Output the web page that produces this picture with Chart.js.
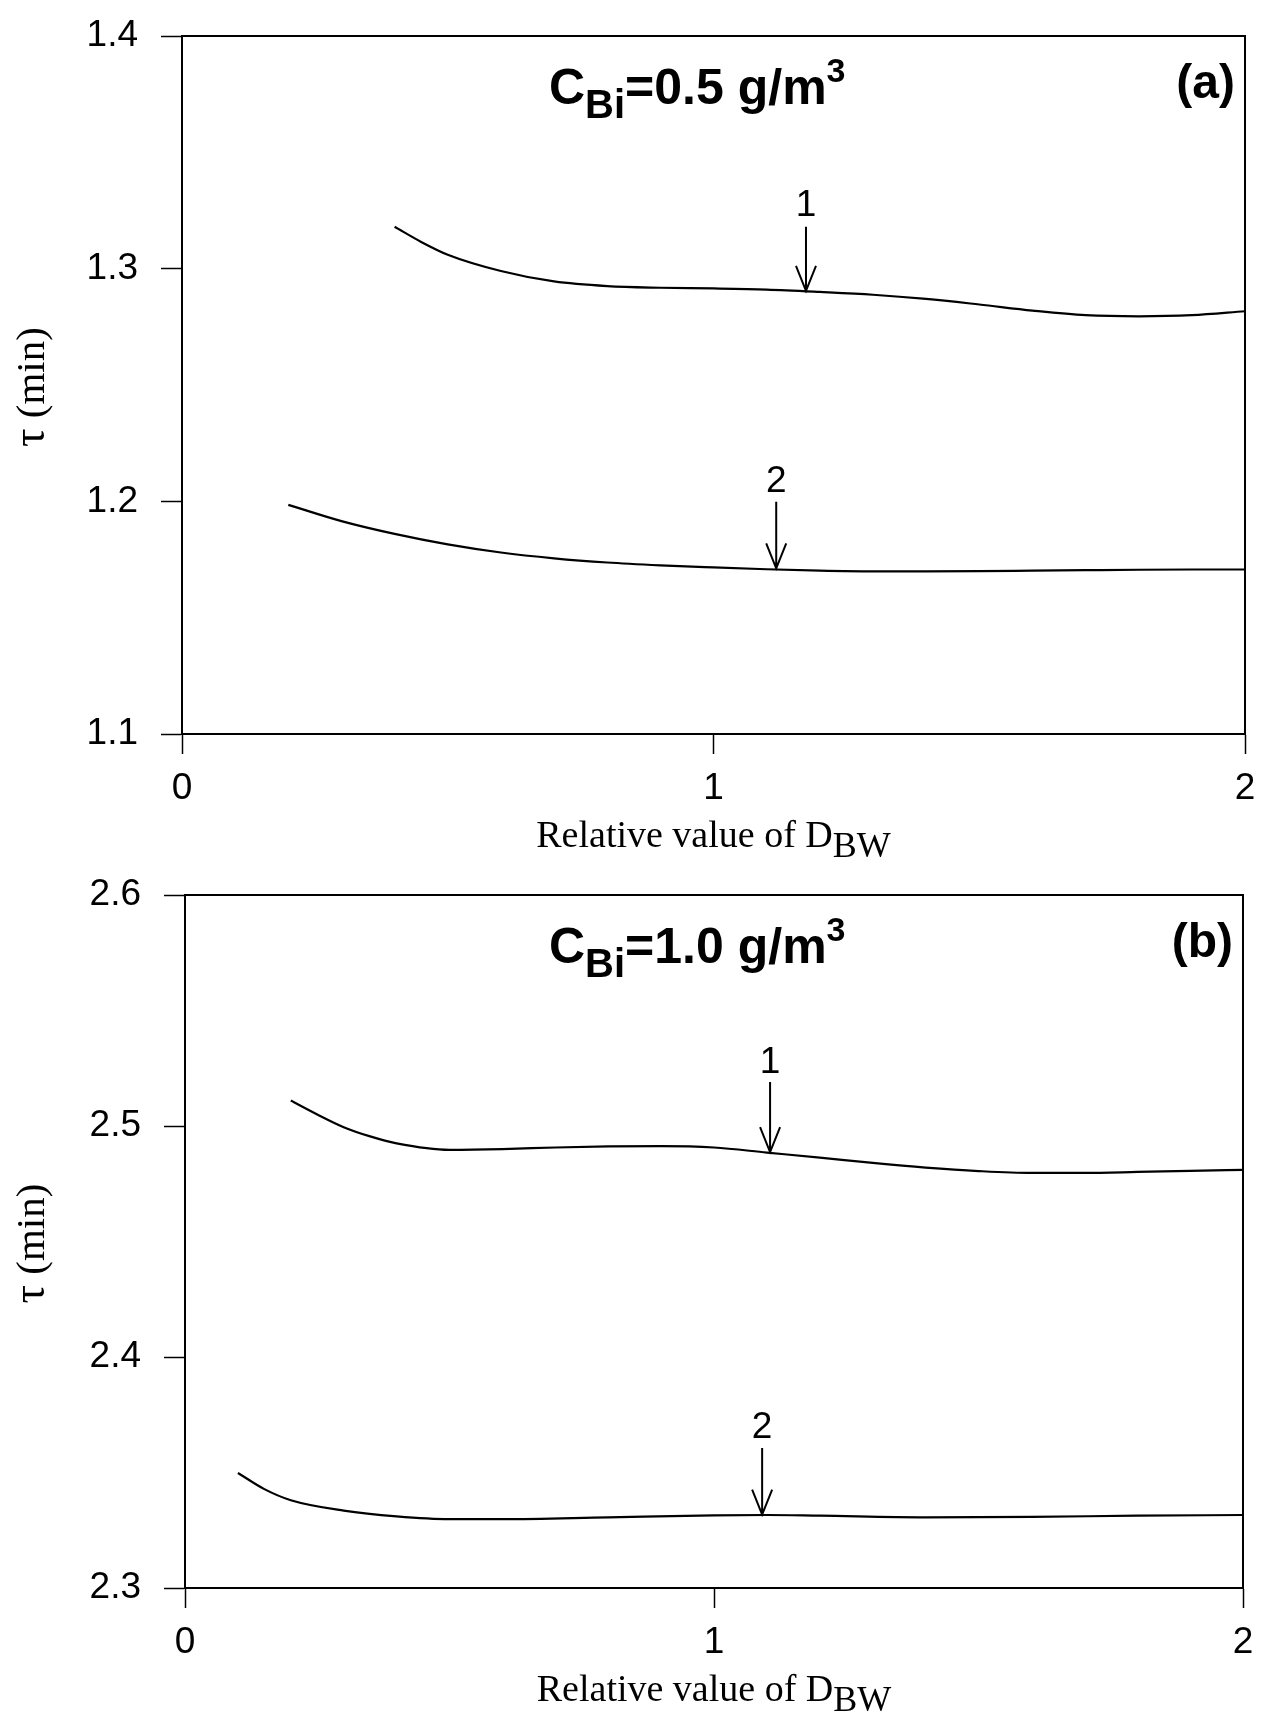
<!DOCTYPE html>
<html>
<head>
<meta charset="utf-8">
<script src="https://cdn.jsdelivr.net/npm/chart.js@4.4.0/dist/chart.umd.min.js"></script>
<style>
  html, body { margin: 0; padding: 0; background: #fff; }
  .panel { position: relative; width: 1261px; height: 857px; }
</style>
</head>
<body>
<div class="panel"><canvas id="chartA"></canvas></div>
<div class="panel"><canvas id="chartB"></canvas></div>
<script>
// Panel (a): C_Bi = 0.5 g/m3, tau vs relative D_BW
const xA1 = [0.40, 0.45, 0.50, 0.60, 0.70, 0.80, 0.90, 1.00, 1.10, 1.20, 1.30, 1.40, 1.50, 1.60, 1.70, 1.80, 1.90, 2.00];
const yA1 = [1.318, 1.3115, 1.306, 1.299, 1.2945, 1.2925, 1.2918, 1.2915, 1.291, 1.290, 1.2888, 1.2870, 1.2846, 1.2820, 1.2800, 1.2795, 1.2800, 1.2817];
const xA2 = [0.20, 0.30, 0.40, 0.50, 0.60, 0.70, 0.80, 0.90, 1.00, 1.10, 1.20, 1.30, 1.40, 1.50, 1.60, 1.70, 1.80, 1.90, 2.00];
const yA2 = [1.1985, 1.1915, 1.1860, 1.1815, 1.1780, 1.1755, 1.1737, 1.1725, 1.1716, 1.1708, 1.1702, 1.1699, 1.1699, 1.1700, 1.1702, 1.1704, 1.1706, 1.1707, 1.1707];

// Panel (b): C_Bi = 1.0 g/m3
const xB1 = [0.20, 0.25, 0.30, 0.35, 0.40, 0.50, 0.60, 0.70, 0.80, 0.90, 1.00, 1.10, 1.20, 1.30, 1.40, 1.50, 1.60, 1.70, 1.80, 1.90, 2.00];
const yB1 = [2.5110, 2.5050, 2.4995, 2.4955, 2.4925, 2.4897, 2.4900, 2.4907, 2.4912, 2.4913, 2.4907, 2.4885, 2.4863, 2.4840, 2.4820, 2.4805, 2.4797, 2.4797, 2.4801, 2.4806, 2.4810];
const xB2 = [0.10, 0.15, 0.20, 0.30, 0.40, 0.50, 0.60, 0.80, 1.00, 1.10, 1.20, 1.40, 1.60, 1.80, 2.00];
const yB2 = [2.3498, 2.3428, 2.3380, 2.3335, 2.3310, 2.3298, 2.3298, 2.3306, 2.3314, 2.3316, 2.3313, 2.3306, 2.3308, 2.3313, 2.3316];

// axis ranges and ticks
const xTicks = [0, 1, 2];
const yTicksA = [1.1, 1.2, 1.3, 1.4];
const yTicksB = [2.3, 2.4, 2.5, 2.6];

// curve labels with arrows (x, label centre, arrow tail, arrow tip) in data units
const arrowsA = [
  { text: "1", x: 1.174, label: 1.327, tail: 1.318, tip: 1.2905 },
  { text: "2", x: 1.118, label: 1.2084, tail: 1.1998, tip: 1.1712 }
];
const arrowsB = [
  { text: "1", x: 1.106, label: 2.5273, tail: 2.519, tip: 2.4887 },
  { text: "2", x: 1.091, label: 2.3693, tail: 2.3606, tip: 2.3318 }
];

const SANS = '"Liberation Sans", Arial, sans-serif';
const SERIF = '"Liberation Serif", "Times New Roman", serif';

const toPoints = (xs, ys) => xs.map((x, i) => ({ x: x, y: ys[i] }));

// draw a run of text pieces (for sub/superscripts)
const drawRuns = (ctx, runs, x, y, align) => {
  let total = 0;
  runs.forEach((r) => { ctx.font = r.font; total += ctx.measureText(r.t).width; });
  let cx = align === "center" ? x - total / 2 : align === "right" ? x - total : x;
  ctx.textAlign = "left";
  ctx.textBaseline = "alphabetic";
  runs.forEach((r) => {
    ctx.font = r.font;
    ctx.fillText(r.t, cx, y + (r.dy || 0));
    cx += ctx.measureText(r.t).width;
  });
};

const figurePlugin = {
  id: "figure",
  afterDraw(chart, args, o) {
    const { ctx, chartArea: a, scales } = chart;
    const sx = scales.x, sy = scales.y;
    ctx.save();
    ctx.fillStyle = "#000";
    ctx.strokeStyle = "#000";

    // full frame
    ctx.lineWidth = 2;
    ctx.strokeRect(a.left, a.top, a.right - a.left, a.bottom - a.top);

    // arrows + curve numbers
    ctx.lineWidth = 2;
    o.arrows.forEach((ar) => {
      const px = sx.getPixelForValue(ar.x);
      const pl = sy.getPixelForValue(ar.label);
      const pt = sy.getPixelForValue(ar.tail);
      const pp = sy.getPixelForValue(ar.tip);
      ctx.beginPath();
      ctx.moveTo(px, pt);
      ctx.lineTo(px, pp);
      ctx.moveTo(px - 10, pp - 25);
      ctx.lineTo(px, pp);
      ctx.lineTo(px + 10, pp - 25);
      ctx.stroke();
      ctx.font = '37px "Liberation Sans Narrow", ' + SANS;
      ctx.textAlign = "center";
      ctx.textBaseline = "middle";
      ctx.fillText(ar.text, px, pl);
    });

    // concentration label
    drawRuns(ctx, [
      { t: "C", font: "bold 50px " + SANS },
      { t: "Bi", font: "bold 40px " + SANS, dy: 14 },
      { t: "=" + o.conc + " g/m", font: "bold 50px " + SANS },
      { t: "3", font: "bold 34px " + SANS, dy: -22 }
    ], 549, a.top + 68, "left");

    // panel letter
    ctx.font = "bold 48px " + SANS;
    ctx.textAlign = "right";
    ctx.textBaseline = "alphabetic";
    ctx.fillText(o.letter, a.right - 10, a.top + 62);

    // x axis title
    drawRuns(ctx, [
      { t: "Relative value of D", font: "38px " + SERIF },
      { t: "BW", font: "36px " + SERIF, dy: 10 }
    ], (a.left + a.right) / 2, a.bottom + 113, "center");

    // y axis title (rotated)
    ctx.translate(44, (a.top + a.bottom) / 2 + 2);
    ctx.rotate(-Math.PI / 2);
    drawRuns(ctx, [
      { t: "\u03C4", font: "46px " + SERIF },
      { t: " (min)", font: "41px " + SERIF }
    ], 0, 0, "center");
    ctx.restore();
  }
};

const makeChart = (canvasId, s1, s2, yTicks, geo, extra) => {
  const canvas = document.getElementById(canvasId);
  const lineStyle = {
    borderColor: "#000",
    borderWidth: 2.2,
    pointRadius: 0,
    cubicInterpolationMode: "monotone",
    fill: false
  };
  return new Chart(canvas, {
    type: "line",
    data: {
      datasets: [
        Object.assign({ label: "1", data: s1 }, lineStyle),
        Object.assign({ label: "2", data: s2 }, lineStyle)
      ]
    },
    options: {
      responsive: true,
      maintainAspectRatio: false,
      animation: false,
      layout: { padding: { top: geo.top, right: geo.right, left: 0, bottom: 0 } },
      plugins: {
        legend: { display: false },
        tooltip: { enabled: false },
        figure: extra
      },
      scales: {
        x: {
          type: "linear",
          min: xTicks[0],
          max: xTicks[xTicks.length - 1],
          afterBuildTicks: (s) => { s.ticks = xTicks.map((v) => ({ value: v })); },
          // fixed box, no label overflow padding
          afterFit: (s) => { s.height = geo.xh; s.paddingLeft = 0; s.paddingRight = 0; },
          ticks: {
            color: "#000",
            font: { family: SANS, size: 37 },
            padding: 13,
            maxRotation: 0,
            callback: (v) => v.toFixed(0)
          },
          grid: { drawOnChartArea: false, drawTicks: true, tickLength: 20, tickColor: "#000", tickWidth: 1.5 },
          border: { display: true, color: "#000", width: 2 }
        },
        y: {
          type: "linear",
          min: yTicks[0],
          max: yTicks[yTicks.length - 1],
          afterBuildTicks: (s) => { s.ticks = yTicks.map((v) => ({ value: v })); },
          afterFit: (s) => { s.width = geo.yw; s.paddingTop = 0; s.paddingBottom = 0; },
          ticks: {
            color: "#000",
            font: { family: SANS, size: 37 },
            padding: 23,
            callback: (v) => v.toFixed(1)
          },
          grid: { drawOnChartArea: false, drawTicks: true, tickLength: 21, tickColor: "#000", tickWidth: 1.5 },
          border: { display: true, color: "#000", width: 2 }
        }
      }
    },
    plugins: [figurePlugin]
  });
};

makeChart("chartA", toPoints(xA1, yA1), toPoints(xA2, yA2), yTicksA,
  { top: 36, right: 16, yw: 182, xh: 123 },
  { arrows: arrowsA, conc: "0.5", letter: "(a)" });

makeChart("chartB", toPoints(xB1, yB1), toPoints(xB2, yB2), yTicksB,
  { top: 38, right: 18, yw: 185, xh: 126 },
  { arrows: arrowsB, conc: "1.0", letter: "(b)" });
</script>
</body>
</html>
